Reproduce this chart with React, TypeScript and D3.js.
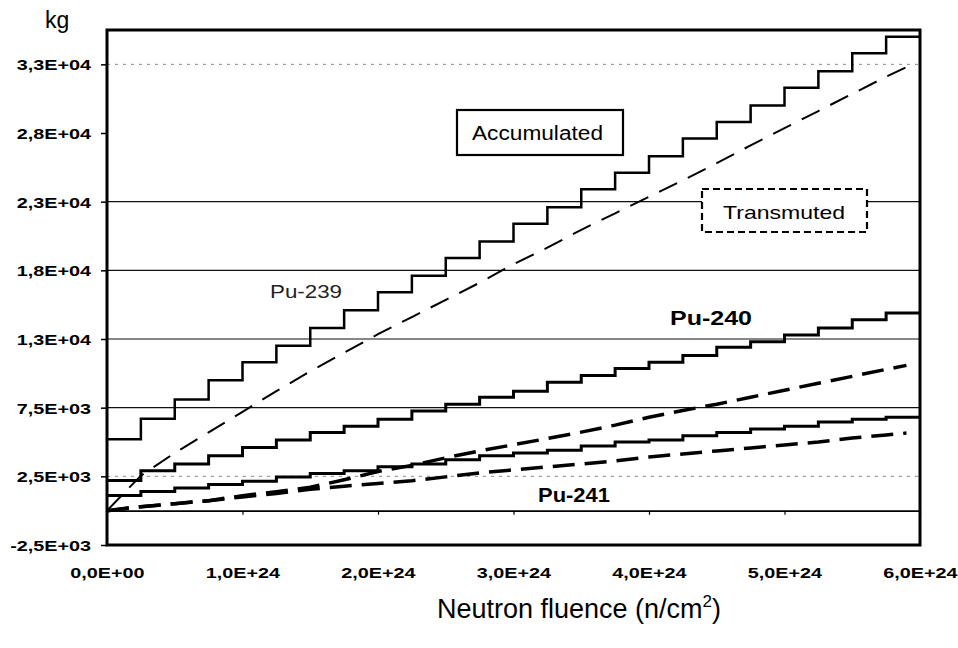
import React, { useEffect, useRef } from "react";
import * as d3 from "d3";

// fluence in units of 1E+24 n/cm2
const fluenceSteps = [0, 0.25, 0.5, 0.75, 1, 1.25, 1.5, 1.75, 2, 2.25, 2.5, 2.75, 3, 3.25, 3.5, 3.75, 4, 4.25, 4.5, 4.75, 5, 5.25, 5.5, 5.75, 6];
const fluenceTrans = [0, 0.25, 0.5, 0.75, 1, 1.25, 1.5, 1.75, 2, 2.25, 2.5, 2.75, 3, 3.25, 3.5, 3.75, 4, 4.25, 4.5, 4.75, 5, 5.25, 5.5, 5.75, 5.9];

// accumulated (kg), one value per step
const pu239Accum = [5200, 6700, 8100, 9500, 10800, 12000, 13300, 14600, 15900, 17100, 18400, 19600, 20900, 22100, 23400, 24600, 25800, 27100, 28300, 29500, 30800, 32000, 33300, 34500];
const pu240Accum = [2200, 2900, 3400, 4000, 4600, 5150, 5700, 6150, 6650, 7250, 7750, 8250, 8700, 9350, 9850, 10350, 10800, 11300, 11900, 12300, 12800, 13300, 13900, 14400];
const pu241Accum = [1100, 1400, 1650, 1900, 2150, 2450, 2700, 2900, 3200, 3400, 3700, 4000, 4200, 4400, 4700, 5000, 5150, 5450, 5700, 5950, 6150, 6450, 6650, 6800];

// transmuted (kg)
const pu239Trans = [0, 2550, 4200, 5700, 7200, 8700, 10150, 11500, 12850, 14100, 15350, 16600, 17950, 19150, 20450, 21650, 22850, 24050, 25300, 26600, 27850, 29100, 30350, 31600, 32300];
const pu240Trans = [0, 290, 510, 730, 1090, 1380, 1700, 2250, 2850, 3300, 3850, 4350, 4800, 5250, 5720, 6230, 6800, 7300, 7750, 8260, 8770, 9280, 9780, 10290, 10580];
const pu241Trans = [0, 290, 510, 730, 1000, 1250, 1550, 1780, 1980, 2180, 2460, 2750, 2970, 3190, 3400, 3620, 3910, 4130, 4350, 4570, 4780, 5000, 5290, 5510, 5650];

const yTicks = [-2500, 2500, 7500, 12500, 17500, 22500, 27500, 32500];
const yTickLabels = ["-2,5E+03", "2,5E+03", "7,5E+03", "1,3E+04", "1,8E+04", "2,3E+04", "2,8E+04", "3,3E+04"];
const xTicks = [0, 1, 2, 3, 4, 5, 6];
const xTickLabels = ["0,0E+00", "1,0E+24", "2,0E+24", "3,0E+24", "4,0E+24", "5,0E+24", "6,0E+24"];

const FONT = "'Liberation Sans', Arial, sans-serif";

export default function App() {
  const svgRef = useRef(null);

  useEffect(() => {
    const svg = d3.select(svgRef.current);
    svg.selectAll("*").remove();

    const left = 107, right = 920, top = 30, bottom = 545;
    const x = d3.scaleLinear().domain([0, 6]).range([left, right]);
    const y = d3.scaleLinear().domain([-2500, 35000]).range([bottom, top]);

    svg.append("rect").attr("width", 958).attr("height", 648).attr("fill", "#fff");

    // gridlines (the scan lost some of them)
    const faint = [2500, 32500];
    const hidden = [27500, -2500];
    svg
      .append("g")
      .selectAll("line")
      .data(yTicks.filter((t) => !hidden.includes(t)))
      .enter()
      .append("line")
      .attr("x1", left)
      .attr("x2", right)
      .attr("y1", (d) => y(d))
      .attr("y2", (d) => y(d))
      .attr("stroke", (d) => (faint.includes(d) ? "#888" : "#111"))
      .attr("stroke-width", (d) => (faint.includes(d) ? 1 : 1.2))
      .attr("stroke-dasharray", (d) => (faint.includes(d) ? "3,5" : null));

    // y axis
    const yAxis = svg
      .append("g")
      .attr("transform", `translate(${left},0)`)
      .call(
        d3
          .axisLeft(y)
          .tickValues(yTicks)
          .tickFormat((d, i) => yTickLabels[i])
          .tickSizeInner(6)
          .tickSizeOuter(0)
      );
    yAxis.select(".domain").remove();
    yAxis.selectAll("line").attr("stroke", "#000").attr("stroke-width", 1.5);
    yAxis
      .selectAll("text")
      .attr("x", -16 / 1.32)
      .attr("dy", "0.36em")
      .attr("transform", "scale(1.32,1)")
      .style("font-family", FONT)
      .style("font-size", "15px")
      .style("font-weight", "bold")
      .style("fill", "#000");

    // x axis on the zero line, labels below the plot
    const xAxis = svg
      .append("g")
      .attr("transform", `translate(0,${y(0)})`)
      .call(
        d3
          .axisBottom(x)
          .tickValues(xTicks)
          .tickFormat((d, i) => xTickLabels[i])
          .tickSizeInner(4)
          .tickSizeOuter(0)
      );
    xAxis.select(".domain").attr("stroke", "#000").attr("stroke-width", 1.6);
    xAxis.selectAll("line").attr("stroke", "#000").attr("stroke-width", 1.2);
    xAxis
      .selectAll(".tick")
      .append("g")
      .attr("transform", `translate(0,${578 - y(0)}) scale(1.32,1)`)
      .each(function () {
        const txt = d3.select(this.parentNode).select("text");
        this.appendChild(txt.node());
      });
    xAxis
      .selectAll("text")
      .attr("y", 0)
      .attr("dy", "0")
      .style("font-family", FONT)
      .style("font-size", "15px")
      .style("font-weight", "bold")
      .style("fill", "#000");

    // transmuted (dashed)
    const transLine = d3
      .line()
      .x((d) => x(d[0]))
      .y((d) => y(d[1]));
    const transSeries = [
      { values: pu241Trans, width: 3.5, dash: "22,10" },
      { values: pu240Trans, width: 3.5, dash: "22,10" },
      { values: pu239Trans, width: 2, dash: "20,12" },
    ];
    svg
      .append("g")
      .selectAll("path")
      .data(transSeries)
      .enter()
      .append("path")
      .attr("d", (s) => transLine(s.values.map((v, i) => [fluenceTrans[i], v])))
      .attr("fill", "none")
      .attr("stroke", "#000")
      .attr("stroke-width", (s) => s.width)
      .attr("stroke-dasharray", (s) => s.dash);

    // accumulated (steps)
    const stepLine = d3
      .line()
      .x((d) => x(d[0]))
      .y((d) => y(d[1]))
      .curve(d3.curveStepAfter);
    const accumSeries = [
      { values: pu239Accum, width: 2.5 },
      { values: pu240Accum, width: 3 },
      { values: pu241Accum, width: 3 },
    ];
    svg
      .append("g")
      .selectAll("path")
      .data(accumSeries)
      .enter()
      .append("path")
      .attr("d", (s) =>
        stepLine(
          s.values
            .map((v, i) => [fluenceSteps[i], v])
            .concat([[fluenceSteps[fluenceSteps.length - 1], s.values[s.values.length - 1]]])
        )
      )
      .attr("fill", "none")
      .attr("stroke", "#000")
      .attr("stroke-width", (s) => s.width);

    // frame
    svg
      .append("rect")
      .attr("x", left)
      .attr("y", top)
      .attr("width", right - left)
      .attr("height", bottom - top)
      .attr("fill", "none")
      .attr("stroke", "#000")
      .attr("stroke-width", 3);

    // legend boxes
    svg
      .append("rect")
      .attr("x", 457)
      .attr("y", 110)
      .attr("width", 166)
      .attr("height", 45)
      .attr("fill", "#fff")
      .attr("stroke", "#000")
      .attr("stroke-width", 2.2);
    svg
      .append("text")
      .attr("x", 472)
      .attr("y", 140)
      .attr("textLength", 131)
      .attr("lengthAdjust", "spacingAndGlyphs")
      .style("font-family", FONT)
      .style("font-size", "20px")
      .text("Accumulated");

    svg
      .append("rect")
      .attr("x", 702)
      .attr("y", 189)
      .attr("width", 165)
      .attr("height", 43)
      .attr("fill", "#fff")
      .attr("stroke", "#000")
      .attr("stroke-width", 2.2)
      .attr("stroke-dasharray", "7,4");
    svg
      .append("text")
      .attr("x", 723)
      .attr("y", 219)
      .attr("textLength", 122)
      .attr("lengthAdjust", "spacingAndGlyphs")
      .style("font-family", FONT)
      .style("font-size", "19px")
      .text("Transmuted");

    // series labels
    svg
      .append("text")
      .attr("x", 270)
      .attr("y", 298)
      .attr("textLength", 72)
      .attr("lengthAdjust", "spacingAndGlyphs")
      .style("font-family", FONT)
      .style("font-size", "18px")
      .style("fill", "#222")
      .text("Pu-239");
    svg
      .append("text")
      .attr("x", 670)
      .attr("y", 325)
      .attr("textLength", 82)
      .attr("lengthAdjust", "spacingAndGlyphs")
      .style("font-family", FONT)
      .style("font-size", "20px")
      .style("font-weight", "bold")
      .text("Pu-240");
    svg
      .append("text")
      .attr("x", 538)
      .attr("y", 502)
      .attr("textLength", 72)
      .attr("lengthAdjust", "spacingAndGlyphs")
      .style("font-family", FONT)
      .style("font-size", "20px")
      .style("font-weight", "bold")
      .text("Pu-241");

    // axis titles
    svg
      .append("text")
      .attr("x", 45)
      .attr("y", 28)
      .style("font-family", FONT)
      .style("font-size", "23px")
      .text("kg");

    const title = svg
      .append("text")
      .attr("x", 579)
      .attr("y", 618)
      .attr("text-anchor", "middle")
      .style("font-family", FONT)
      .style("font-size", "27px");
    title.append("tspan").text("Neutron fluence (n/cm");
    title.append("tspan").attr("dy", -11).style("font-size", "17px").text("2");
    title.append("tspan").attr("dy", 11).text(")");
  }, []);

  return (
    <svg
      ref={svgRef}
      width={958}
      height={648}
      style={{ position: "absolute", left: 0, top: 0 }}
    />
  );
}
